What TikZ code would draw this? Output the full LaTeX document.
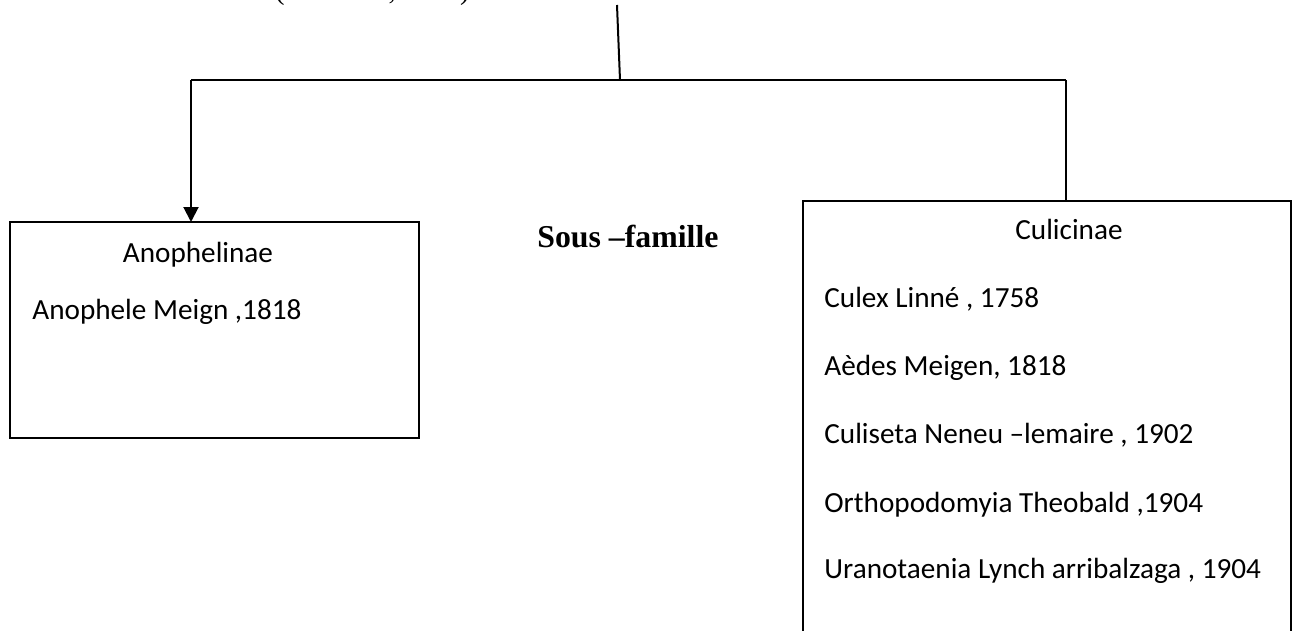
\documentclass[tikz,border=0pt]{standalone}
\usepackage{fontspec}
\setmainfont{Carlito}
\newfontfamily\serifheading{Liberation Serif}
\usetikzlibrary{arrows.meta}
\pgfdeclarelayer{edgelayer}
\pgfdeclarelayer{nodelayer}
\pgfsetlayers{edgelayer,nodelayer,main}
\tikzstyle{none}=[inner sep=0pt]
\tikzstyle{box}=[rectangle,draw=black,line width=0.9pt,inner sep=0pt]
\tikzstyle{entry}=[inner sep=0pt,anchor=base west,font=\fontsize{14.6}{17}\selectfont]
\tikzstyle{title}=[inner sep=0pt,anchor=base,font=\fontsize{14.6}{17}\selectfont]
\tikzstyle{heading}=[inner sep=0pt,anchor=base west,font=\serifheading\fontsize{14.3}{17}\selectfont]
\tikzstyle{subheading}=[inner sep=0pt,anchor=base west,font=\serifheading\bfseries\fontsize{15.9}{19}\selectfont]
\tikzstyle{simple}=[-,draw=black,line width=1pt]
\tikzstyle{arrow}=[-{Triangle[width=7.5pt,length=7.5pt]},draw=black,line width=1pt]

\begin{document}
\begin{tikzpicture}[x=25pt,y=25pt]
	\useasboundingbox (0, 0) rectangle (25.9, -12.62);
	\begin{pgfonlayer}{nodelayer}
		\node [style=heading] (0) at (0.92, 0.008) {Famille : Culicidae (Harbach , 2007)};
		\node [style=subheading] (1) at (10.74, -4.94) {Sous –famille};
		\node [style=box, minimum width=204.5pt, minimum height=108pt] (2) at (4.29, -6.6) {};
		\node [style=box, minimum width=244pt, minimum height=229.5pt] (3) at (20.94, -8.61) {};
		\node [style=title] (4) at (3.96, -5.24) {Anophelinae};
		\node [style=entry] (5) at (0.64, -6.38) {Anophele Meign ,1818};
		\node [style=title] (6) at (21.38, -4.78) {Culicinae};
		\node [style=entry] (7) at (16.48, -6.14) {Culex Linné , 1758};
		\node [style=entry] (8) at (16.48, -7.5) {Aèdes Meigen, 1818};
		\node [style=entry] (9) at (16.48, -8.86) {Culiseta Neneu –lemaire , 1902};
		\node [style=entry] (10) at (16.48, -10.24) {Orthopodomyia Theobald ,1904};
		\node [style=entry] (11) at (16.48, -11.56) {Uranotaenia Lynch arribalzaga , 1904};
		\node [style=none] (12) at (12.34, -0.1) {};
		\node [style=none] (13) at (12.4, -1.6) {};
		\node [style=none] (14) at (3.82, -1.6) {};
		\node [style=none] (15) at (21.32, -1.6) {};
		\node [style=none] (16) at (3.82, -4.44) {};
		\node [style=none] (17) at (21.32, -4.02) {};
	\end{pgfonlayer}
	\begin{pgfonlayer}{edgelayer}
		\draw [style=simple] (12.center) to (13.center);
		\draw [style=simple] (14.center) to (15.center);
		\draw [style=arrow] (14.center) to (16.center);
		\draw [style=simple] (15.center) to (17.center);
	\end{pgfonlayer}
\end{tikzpicture}
\end{document}
